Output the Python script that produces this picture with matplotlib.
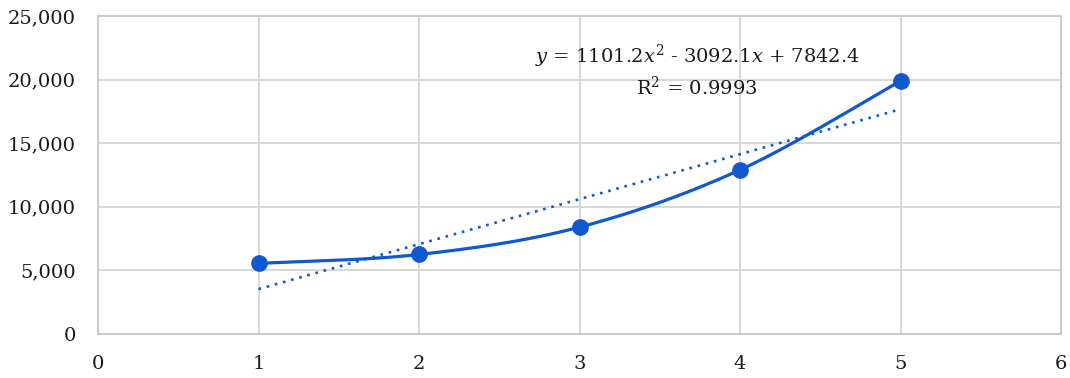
import numpy as np
import matplotlib
matplotlib.use("Agg")
import matplotlib.pyplot as plt
from matplotlib.ticker import FuncFormatter

x_vals = [1, 2, 3, 4, 5]
y_vals = [5550, 6250, 8400, 12900, 19900]
x_ticks = [0, 1, 2, 3, 4, 5, 6]
y_ticks = [0, 5000, 10000, 15000, 20000, 25000]
eq_text = r"$y$ = 1101.2$x^2$ - 3092.1$x$ + 7842.4"
r2_text = r"R$^2$ = 0.9993"

plt.rcParams['font.family'] = ['DejaVu Serif']
plt.rcParams['mathtext.fontset'] = 'dejavuserif'

color = "#0F58CF"
fig = plt.figure(figsize=(10.7, 3.78), dpi=100)
ax = fig.add_axes([0.0916, 0.1164, 0.9, 0.8413])

# Catmull-Rom smooth curve through the points (Excel-like smoothing)
xs = np.array(x_vals, float)
ys = np.array(y_vals, float)
px = np.concatenate([[xs[0]], xs, [xs[-1]]])
py = np.concatenate([[ys[0]], ys, [ys[-1]]])
cx, cy = [], []
t = np.linspace(0, 1, 60)
for i in range(1, len(px) - 2):
    p0x, p1x, p2x, p3x = px[i-1], px[i], px[i+1], px[i+2]
    p0y, p1y, p2y, p3y = py[i-1], py[i], py[i+1], py[i+2]
    b1x, b1y = p1x + (p2x - p0x) / 6, p1y + (p2y - p0y) / 6
    b2x, b2y = p2x - (p3x - p1x) / 6, p2y - (p3y - p1y) / 6
    bx = (1-t)**3*p1x + 3*(1-t)**2*t*b1x + 3*(1-t)*t**2*b2x + t**3*p2x
    by = (1-t)**3*p1y + 3*(1-t)**2*t*b1y + 3*(1-t)*t**2*b2y + t**3*p2y
    cx.extend(bx); cy.extend(by)
ax.plot(cx, cy, color=color, lw=2.3, zorder=3, solid_capstyle='round')
ax.plot(xs, ys, 'o', color=color, ms=11, zorder=4)

# linear trendline
m, b = np.polyfit(xs, ys, 1)
ax.plot(xs, m * xs + b, color=color, lw=1.9, ls=(0, (1, 2.2)), zorder=2)

ax.set_xlim(0, 6)
ax.set_ylim(0, 25000)
ax.set_xticks(x_ticks)
ax.set_yticks(y_ticks)
ax.yaxis.set_major_formatter(FuncFormatter(lambda v, p: f"{int(v):,}"))
ax.grid(True, color="#d4d4d4", lw=1.3)
ax.set_axisbelow(True)
for s in ax.spines.values():
    s.set_color("#c8c8c8")
    s.set_linewidth(1.3)
ax.tick_params(length=0, labelsize=14, colors="#1a1a1a")
ax.tick_params(axis='y', pad=16)
ax.tick_params(axis='x', pad=15)

ax.text(0.622, 0.852, eq_text, transform=ax.transAxes, ha='center', va='baseline',
        fontsize=14, color="#1a1a1a")
ax.text(0.622, 0.752, r2_text, transform=ax.transAxes, ha='center', va='baseline',
        fontsize=14, color="#1a1a1a")

fig.savefig("out.png", dpi=100)
